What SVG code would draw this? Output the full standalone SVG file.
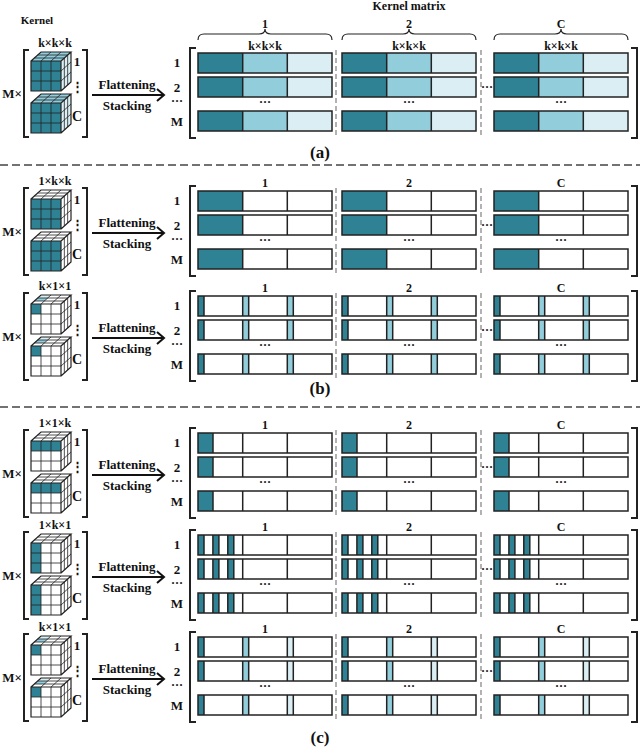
<svg xmlns="http://www.w3.org/2000/svg" xmlns:xlink="http://www.w3.org/1999/xlink" width="640" height="749" viewBox="0 0 640 749">
<style>
text{font-family:"Liberation Serif",serif;font-weight:bold;fill:#111;font-size:12px;text-anchor:middle}
.o{fill:none;stroke:#222;stroke-width:1.5}
.g{fill:none;stroke:#222;stroke-width:0.8}
.d{fill:#2f8294}.m{fill:#92cddc}.l{fill:#daeef3}.w{fill:#fff}
.br{fill:none;stroke:#222;stroke-width:2}
.sep{stroke:#999;stroke-width:1.5;stroke-dasharray:5 3}
.div{stroke:#444;stroke-width:1.5;stroke-dasharray:8 4}
.ar{fill:none;stroke:#111;stroke-width:2}
</style>
<defs>
<g id="rowOut"><rect class="o" x="0" y="0" width="134" height="20"/><path class="o" d="M44.7,0V20M89.3,0V20"/></g>
<g id="rowA"><rect class="d" width="44.7" height="20"/><rect class="m" x="44.7" width="44.6" height="20"/><rect class="l" x="89.3" width="44.7" height="20"/><use xlink:href="#rowOut"/></g>
<g id="rowB1"><rect class="w" width="134" height="20"/><rect class="d" width="44.7" height="20"/><use xlink:href="#rowOut"/></g>
<g id="rowS"><rect class="w" width="134" height="20"/><rect class="d" width="6" height="20"/><rect class="m" x="44.7" width="6" height="20"/><rect class="m" x="89.3" width="6" height="20"/><path class="o" d="M6,0V20M50.7,0V20M95.3,0V20"/><use xlink:href="#rowOut"/></g>
<g id="rowS2"><rect class="w" width="134" height="20"/><rect class="d" width="6" height="20"/><rect class="m" x="44.7" width="6" height="20"/><rect class="l" x="89.3" width="6" height="20"/><path class="o" d="M6,0V20M50.7,0V20M95.3,0V20"/><use xlink:href="#rowOut"/></g>
<g id="rowC1"><rect class="w" width="134" height="20"/><rect class="d" width="15" height="20"/><path class="o" d="M15,0V20"/><use xlink:href="#rowOut"/></g>
<g id="rowC2"><rect class="w" width="134" height="20"/><rect class="d" width="6" height="20"/><rect class="d" x="14.9" width="6" height="20"/><rect class="d" x="29.8" width="6" height="20"/><path class="o" d="M6,0V20M14.9,0V20M20.9,0V20M29.8,0V20M35.8,0V20"/><use xlink:href="#rowOut"/></g>
<g id="frame">
<path class="br" d="M196,-5H190V85H196"/>
<path class="br" d="M631,-5H637V85H631"/>
<line class="sep" x1="336" y1="-3" x2="336" y2="82"/>
<line class="sep" x1="481" y1="-3" x2="481" y2="82"/>
<text x="177" y="14" style="font-size:13px">1</text><text x="177" y="39" style="font-size:13px">2</text><text x="177" y="52">···</text><text x="177" y="73" style="font-size:13px">M</text>
<text x="265" y="53">···</text><text x="409" y="53">···</text><text x="561" y="53">···</text>
<text x="487" y="38">···</text>
</g>
<g id="cubeGrid">
<path class="g" d="M10,0V30M20,0V30M0,10H30M0,20H30M10,0L20,-9M20,0L30,-9M3.33,-3H33.33M6.67,-6H36.67M33.33,-3V27M36.67,-6V24M30,10L40,1M30,20L40,11"/>
<path class="o" style="stroke-width:1.2" d="M0,0H30V30H0ZM0,0L10,-9H40L30,0M40,-9V21L30,30"/>
</g>
<g id="cubeW"><rect class="w" width="30" height="30"/><polygon class="w" points="0,0 30,0 40,-9 10,-9"/><polygon class="w" points="30,0 40,-9 40,21 30,30"/></g>
<g id="cubeA"><rect class="d" width="30" height="30"/><polygon class="m" points="0,0 30,0 40,-9 10,-9"/><polygon class="l" points="30,0 40,-9 40,21 30,30"/><use xlink:href="#cubeGrid"/></g>
<g id="cubeB1"><use xlink:href="#cubeW"/><rect class="d" width="30" height="30"/><use xlink:href="#cubeGrid"/></g>
<g id="cubeS"><use xlink:href="#cubeW"/><rect class="d" width="10" height="10"/><polygon class="m" points="3.33,-3 13.33,-3 16.67,-6 6.67,-6"/><polygon class="l" points="6.67,-6 16.67,-6 20,-9 10,-9"/><use xlink:href="#cubeGrid"/></g>
<g id="cubeC1"><use xlink:href="#cubeW"/><rect class="d" width="30" height="10"/><use xlink:href="#cubeGrid"/></g>
<g id="cubeC2"><use xlink:href="#cubeW"/><rect class="d" width="10" height="30"/><use xlink:href="#cubeGrid"/></g>
<g id="kframe">
<path class="br" d="M29,-3H24V84H29"/>
<path class="br" d="M82,-3H87V84H82"/>
<text x="77" y="13" style="font-size:13px">1</text><text x="77" y="38" style="font-size:13px">⋮</text><text x="77" y="68" style="font-size:14px">C</text>
<text x="12" y="45" style="font-size:13px">M×</text>
<line class="ar" x1="92" y1="42" x2="164" y2="42"/><polyline class="ar" points="157,36 164,42 157,48"/>
<text x="127" y="36" style="font-size:13px">Flattening</text><text x="127" y="57" style="font-size:13px">Stacking</text>
</g>
</defs>

<text x="37" y="24" style="font-size:11px">Kernel</text>
<text x="409" y="10" style="font-size:12px">Kernel matrix</text>
<g id="braces">
<path class="o" style="stroke-width:1.2" d="M198,40Q198,34 204,34H259Q265,34 265,29Q265,34 271,34H326Q332,34 332,40"/>
<path class="o" style="stroke-width:1.2" d="M342,40Q342,34 348,34H403Q409,34 409,29Q409,34 415,34H470Q476,34 476,40"/>
<path class="o" style="stroke-width:1.2" d="M494,40Q494,34 500,34H555Q561,34 561,29Q561,34 567,34H622Q628,34 628,40"/>
<text x="265" y="28">1</text><text x="409" y="28">2</text><text x="561" y="28">C</text>
<text x="265" y="50">k×k×k</text><text x="409" y="50">k×k×k</text><text x="561" y="50">k×k×k</text>
</g>

<g id="kernel-a" transform="translate(0,53)">
<use xlink:href="#kframe"/><text x="55" y="-6">k×k×k</text>
<use xlink:href="#cubeA" x="31" y="8"/><use xlink:href="#cubeA" x="31" y="50"/>
</g>
<g id="matrix-a" transform="translate(0,53)">
<use xlink:href="#frame"/>
<use xlink:href="#rowA" x="198"/><use xlink:href="#rowA" x="342"/><use xlink:href="#rowA" x="494"/>
<use xlink:href="#rowA" x="198" y="24"/><use xlink:href="#rowA" x="342" y="24"/><use xlink:href="#rowA" x="494" y="24"/>
<use xlink:href="#rowA" x="198" y="58"/><use xlink:href="#rowA" x="342" y="58"/><use xlink:href="#rowA" x="494" y="58"/>
</g>
<text x="320" y="158" style="font-size:17px">(a)</text>
<line class="div" x1="0" y1="165" x2="640" y2="165"/>

<g id="kernel-b1" transform="translate(0,191)">
<use xlink:href="#kframe"/><text x="55" y="-6">1×k×k</text>
<use xlink:href="#cubeB1" x="31" y="8"/><use xlink:href="#cubeB1" x="31" y="50"/>
</g>
<g id="matrix-b1" transform="translate(0,191)">
<use xlink:href="#frame"/>
<text x="265" y="-4">1</text><text x="409" y="-4">2</text><text x="561" y="-4">C</text>
<use xlink:href="#rowB1" x="198"/><use xlink:href="#rowB1" x="342"/><use xlink:href="#rowB1" x="494"/>
<use xlink:href="#rowB1" x="198" y="24"/><use xlink:href="#rowB1" x="342" y="24"/><use xlink:href="#rowB1" x="494" y="24"/>
<use xlink:href="#rowB1" x="198" y="58"/><use xlink:href="#rowB1" x="342" y="58"/><use xlink:href="#rowB1" x="494" y="58"/>
</g>
<g id="kernel-b2" transform="translate(0,296)">
<use xlink:href="#kframe"/><text x="55" y="-6">k×1×1</text>
<use xlink:href="#cubeS" x="31" y="8"/><use xlink:href="#cubeS" x="31" y="50"/>
</g>
<g id="matrix-b2" transform="translate(0,296)">
<use xlink:href="#frame"/>
<text x="265" y="-4">1</text><text x="409" y="-4">2</text><text x="561" y="-4">C</text>
<use xlink:href="#rowS" x="198"/><use xlink:href="#rowS" x="342"/><use xlink:href="#rowS" x="494"/>
<use xlink:href="#rowS" x="198" y="24"/><use xlink:href="#rowS" x="342" y="24"/><use xlink:href="#rowS" x="494" y="24"/>
<use xlink:href="#rowS" x="198" y="58"/><use xlink:href="#rowS" x="342" y="58"/><use xlink:href="#rowS" x="494" y="58"/>
</g>
<text x="320" y="394" style="font-size:17px">(b)</text>
<line class="div" x1="0" y1="407" x2="640" y2="407"/>

<g id="kernel-c1" transform="translate(0,433)">
<use xlink:href="#kframe"/><text x="55" y="-6">1×1×k</text>
<use xlink:href="#cubeC1" x="31" y="8"/><use xlink:href="#cubeC1" x="31" y="50"/>
</g>
<g id="matrix-c1" transform="translate(0,433)">
<use xlink:href="#frame"/>
<text x="265" y="-4">1</text><text x="409" y="-4">2</text><text x="561" y="-4">C</text>
<use xlink:href="#rowC1" x="198"/><use xlink:href="#rowC1" x="342"/><use xlink:href="#rowC1" x="494"/>
<use xlink:href="#rowC1" x="198" y="24"/><use xlink:href="#rowC1" x="342" y="24"/><use xlink:href="#rowC1" x="494" y="24"/>
<use xlink:href="#rowC1" x="198" y="58"/><use xlink:href="#rowC1" x="342" y="58"/><use xlink:href="#rowC1" x="494" y="58"/>
</g>
<g id="kernel-c2" transform="translate(0,535)">
<use xlink:href="#kframe"/><text x="55" y="-6">1×k×1</text>
<use xlink:href="#cubeC2" x="31" y="8"/><use xlink:href="#cubeC2" x="31" y="50"/>
</g>
<g id="matrix-c2" transform="translate(0,535)">
<use xlink:href="#frame"/>
<text x="265" y="-4">1</text><text x="409" y="-4">2</text><text x="561" y="-4">C</text>
<use xlink:href="#rowC2" x="198"/><use xlink:href="#rowC2" x="342"/><use xlink:href="#rowC2" x="494"/>
<use xlink:href="#rowC2" x="198" y="24"/><use xlink:href="#rowC2" x="342" y="24"/><use xlink:href="#rowC2" x="494" y="24"/>
<use xlink:href="#rowC2" x="198" y="58"/><use xlink:href="#rowC2" x="342" y="58"/><use xlink:href="#rowC2" x="494" y="58"/>
</g>
<g id="kernel-c3" transform="translate(0,637)">
<use xlink:href="#kframe"/><text x="55" y="-6">k×1×1</text>
<use xlink:href="#cubeS" x="31" y="8"/><use xlink:href="#cubeS" x="31" y="50"/>
</g>
<g id="matrix-c3" transform="translate(0,637)">
<use xlink:href="#frame"/>
<text x="265" y="-4">1</text><text x="409" y="-4">2</text><text x="561" y="-4">C</text>
<use xlink:href="#rowS2" x="198"/><use xlink:href="#rowS2" x="342"/><use xlink:href="#rowS2" x="494"/>
<use xlink:href="#rowS2" x="198" y="24"/><use xlink:href="#rowS2" x="342" y="24"/><use xlink:href="#rowS2" x="494" y="24"/>
<use xlink:href="#rowS2" x="198" y="58"/><use xlink:href="#rowS2" x="342" y="58"/><use xlink:href="#rowS2" x="494" y="58"/>
</g>
<text x="320" y="743" style="font-size:17px">(c)</text>
</svg>
